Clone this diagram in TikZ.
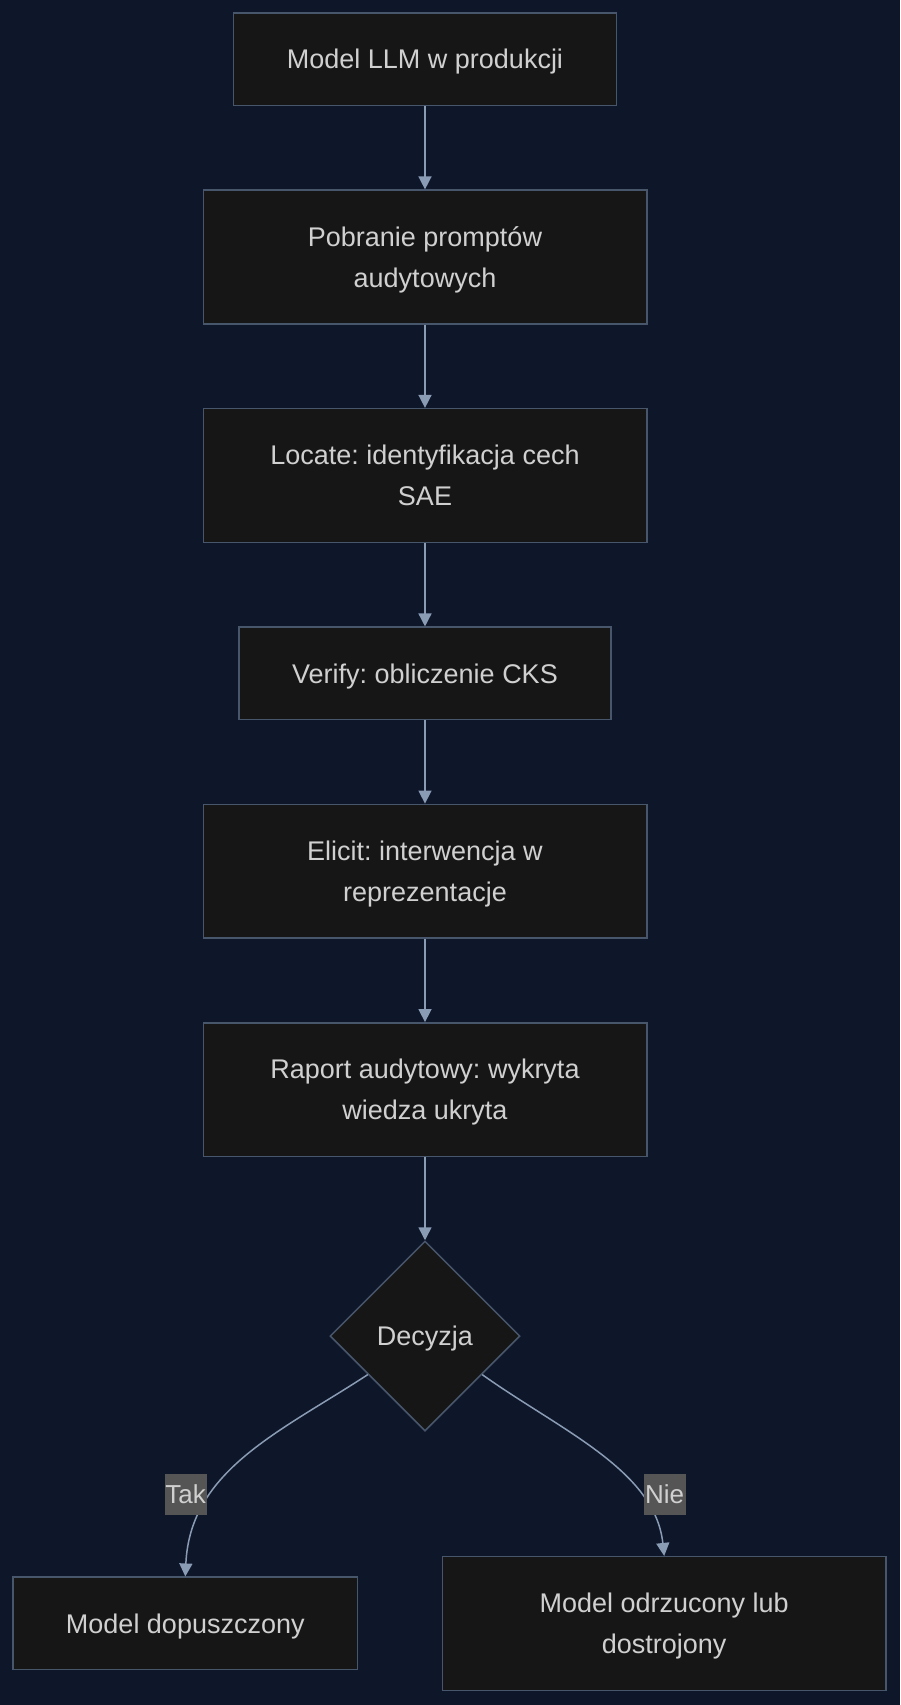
\documentclass[tikz,border=0pt]{standalone}
\usepackage{fontspec}
\setmainfont{Liberation Sans}
\frenchspacing
\usetikzlibrary{shapes.geometric, arrows.meta, positioning}
\definecolor{tlo}{RGB}{14,22,41}
\definecolor{wypelnienie}{RGB}{22,22,22}
\definecolor{ramka}{RGB}{72,86,108}
\definecolor{strzalka}{RGB}{138,155,180}
\definecolor{tekst}{RGB}{208,208,208}
\definecolor{etykieta}{RGB}{85,85,85}
\tikzset{
  krok/.style={rectangle, draw=ramka, line width=1.5pt, fill=wypelnienie, text=tekst, inner sep=0pt, minimum height=92.4pt, align=center, text depth=0pt, font=\fontsize{27}{41}\selectfont},
  krokduzy/.style={krok, minimum width=443.5pt, minimum height=133.7pt},
  decyzja/.style={diamond, aspect=1, draw=ramka, line width=1.5pt, fill=wypelnienie, text=tekst, inner sep=0pt, minimum width=190pt, minimum height=190pt, text depth=0pt, font=\fontsize{27}{41}\selectfont},
  etyk/.style={rectangle, fill=etykieta, text=tekst, inner xsep=0pt, inner ysep=0pt, minimum width=42pt, minimum height=41pt, font=\fontsize{26}{30}\selectfont},
  arrow/.style={draw=strzalka, line width=1.5pt, -{Triangle[length=13pt, width=13pt]}}
}

\begin{document}
\begin{tikzpicture}[x=1pt, y=-1pt]

    % 1. Tlo
    \fill[tlo] (0,0) rectangle (900,1705);
    \useasboundingbox (0,0) rectangle (900,1705);

    % 2. Kroki audytu
    \node[krok, minimum width=382.6pt] (model) at (425, 59.2) {Model LLM w produkcji};
    \node[krokduzy] (pobranie) at (425, 257) {Pobranie promptów\\audytowych};
    \node[krokduzy] (locate) at (425, 475.5) {Locate: identyfikacja cech\\SAE};
    \node[krok, minimum width=371.8pt] (verify) at (425, 673.4) {Verify: obliczenie CKS};
    \node[krokduzy] (elicit) at (425, 871.2) {Elicit: interwencja w\\reprezentacje};
    \node[krokduzy] (raport) at (425, 1089.7) {Raport audytowy: wykryta\\wiedza ukryta};

    % 3. Decyzja
    \node[decyzja] (decyzja) at (425, 1336) {Decyzja};

    % 4. Wyniki
    \node[krok, minimum width=344.6pt] (dopuszczony) at (185.3, 1623.4) {Model dopuszczony};
    \node[krokduzy] (odrzucony) at (664.2, 1623.5) {Model odrzucony lub\\dostrojony};

    % 5. Strzalki
    \draw[arrow] (model) -- (pobranie);
    \draw[arrow] (pobranie) -- (locate);
    \draw[arrow] (locate) -- (verify);
    \draw[arrow] (verify) -- (elicit);
    \draw[arrow] (elicit) -- (raport);
    \draw[arrow] (raport) -- (decyzja);

    \draw[arrow] (decyzja.-146) .. controls (280,1432) and (190,1470) .. (dopuszczony.north);
    \draw[arrow] (decyzja.-34) .. controls (560,1430) and (655,1470) .. (odrzucony.north);

    % 6. Etykiety
    \node[etyk] (tak) at (185.5, 1494.5) {Tak};
    \node[etyk] (nie) at (664.5, 1494.5) {Nie};

\end{tikzpicture}
\end{document}
